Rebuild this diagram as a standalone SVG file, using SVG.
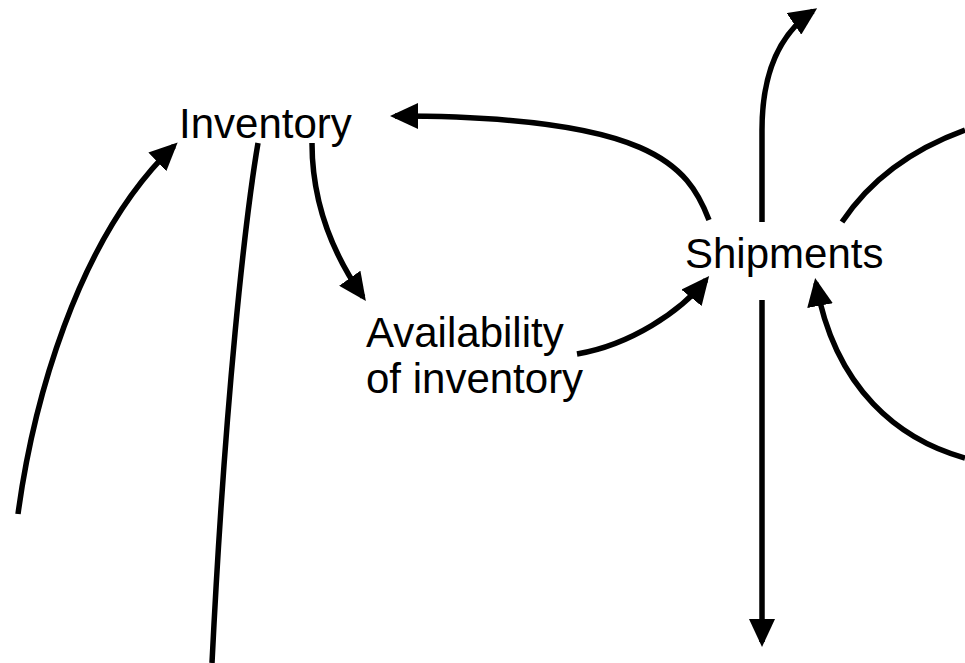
<svg xmlns="http://www.w3.org/2000/svg" width="965" height="663" viewBox="0 0 965 663">
<style>
.lbl{font-family:"Liberation Sans",Arial,sans-serif;font-size:42px;fill:#000}
.c{fill:none;stroke:#000;stroke-width:5.5;marker-end:url(#ah)}
.n{marker-end:none}
</style>
<defs>
<marker id="ah" viewBox="0 0 28 26" refX="23" refY="13" markerWidth="28" markerHeight="26" markerUnits="userSpaceOnUse" orient="auto">
<path d="M0,0 L28,13 L0,26 z" fill="#000"/>
</marker>
</defs>
<rect width="965" height="663" fill="#fff"/>
<g id="connectors">
<path class="c" d="M18,514 C32,410 75,240 174,146"/>
<path class="c n" d="M258,143 C245,220 225,400 212,663"/>
<path class="c" d="M312,143 C312,200 330,250 363,297"/>
<path class="c" d="M577,354 C630,345 680,312 706,280"/>
<path class="c" d="M709,220 C688,165 650,116 395,116"/>
<path class="c" d="M762,222 L762,130 C762,70 782,32 813,11"/>
<path class="c n" d="M842,222 C870,180 910,150 965,130"/>
<path class="c" d="M762,300 L762,642"/>
<path class="c" d="M965,458 C900,440 835,390 816,283"/>
</g>
<g id="inventory"><text class="lbl" x="179" y="138">Inventory</text></g>
<g id="shipments"><text class="lbl" x="685" y="268">Shipments</text></g>
<g id="availability"><text class="lbl" x="366" y="347">Availability</text><text class="lbl" x="366" y="393">of inventory</text></g>
</svg>
